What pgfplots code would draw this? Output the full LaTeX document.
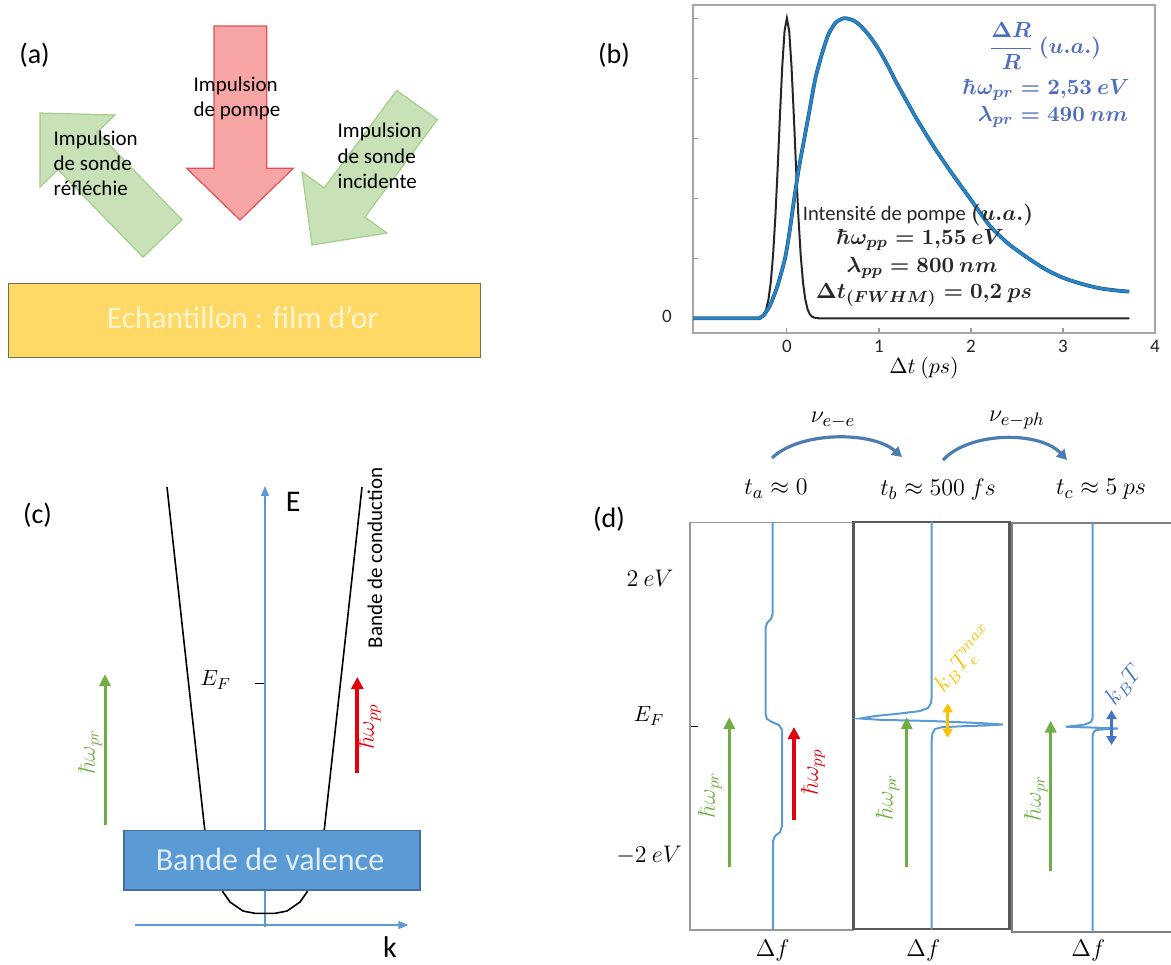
\documentclass[border=0pt]{standalone}
\usepackage[no-math]{fontspec}
\setmainfont{Carlito}
\usepackage{pgfplots}
\pgfplotsset{compat=1.18}
\usetikzlibrary{arrows.meta}
\definecolor{cblue}{RGB}{91,155,213}
\definecolor{cgreen}{RGB}{112,173,71}
\definecolor{cred}{RGB}{228,0,10}
\definecolor{cyellow}{RGB}{255,192,0}
\definecolor{cdblue}{RGB}{68,114,196}
\definecolor{ctxtblue}{RGB}{80,110,190}
\definecolor{ccurve}{RGB}{40,132,196}
\definecolor{carc}{RGB}{74,126,177}
\definecolor{pinkfill}{RGB}{248,165,165}
\definecolor{pinkdraw}{RGB}{225,80,90}
\definecolor{gfill}{RGB}{200,225,183}
\definecolor{gdraw}{RGB}{165,205,140}
\definecolor{gold}{RGB}{255,217,102}
\definecolor{golddraw}{RGB}{110,110,80}
\definecolor{goldtxt}{RGB}{255,244,210}
\definecolor{vbox}{RGB}{91,155,213}
\definecolor{vboxd}{RGB}{65,113,156}
\definecolor{vtxt}{RGB}{225,238,250}
\newcommand{\fs}[1]{\fontsize{#1}{#1}\selectfont}
\begin{document}
\begin{tikzpicture}
\path[use as bounding box] (0,0) rectangle (585.5pt,-482pt);
% ---------------- panel (b) ----------------
\begin{axis}[at={(346.5pt,-166.5pt)}, anchor=south west, scale only axis,
  width=231pt, height=164pt, xmin=-1.02, xmax=4, ymin=-0.049, ymax=1.044,
  axis line style={draw=black!35, line width=0.8pt},
  xtick={0,1,2,3,4}, ytick={0,0.2,0.4,0.6,0.8,1}, yticklabels={},
  xtick pos=left, ytick pos=left, tick align=inside, major tick length=2.5pt,
  tick style={black!40, line width=0.6pt},
  xticklabel style={font=\fs{9.5}, text=black!85},
  /pgf/number format/assume math mode=true, clip=false]
\addplot[black!85, line width=1pt] coordinates {
(-1.02,0) (-0.35,0) (-0.30,0.002) (-0.275,0.005) (-0.25,0.013) (-0.225,0.030)
(-0.20,0.063) (-0.175,0.120) (-0.15,0.211) (-0.125,0.339) (-0.10,0.500)
(-0.075,0.678) (-0.05,0.841) (-0.025,0.958) (0,1) (0.025,0.958) (0.05,0.841)
(0.075,0.678) (0.10,0.500) (0.125,0.339) (0.15,0.211) (0.175,0.120)
(0.20,0.063) (0.225,0.030) (0.25,0.013) (0.275,0.005) (0.30,0.002) (0.35,0) (3.72,0)};
\addplot[ccurve!70!black, line width=1.9pt, smooth, tension=0.4] coordinates {
(-1.02,0) (-0.35,0) (-0.29,0.003) (-0.25,0.011) (-0.18,0.045) (-0.10,0.11)
(-0.02,0.20) (0.03,0.29) (0.08,0.40) (0.13,0.50) (0.19,0.60) (0.25,0.70)
(0.31,0.80) (0.38,0.88) (0.45,0.945) (0.53,0.985) (0.62,1.0) (0.72,0.993)
(0.80,0.975) (0.90,0.94) (1.00,0.895) (1.10,0.84) (1.20,0.78) (1.40,0.67)
(1.60,0.57) (1.80,0.48) (2.00,0.395) (2.20,0.31) (2.40,0.25) (2.60,0.205)
(2.80,0.165) (3.00,0.135) (3.20,0.115) (3.40,0.10) (3.60,0.092) (3.72,0.089)};
\addplot[ccurve, line width=1.3pt, smooth, tension=0.4] coordinates {
(-1.02,0) (-0.35,0) (-0.29,0.003) (-0.25,0.011) (-0.18,0.045) (-0.10,0.11)
(-0.02,0.20) (0.03,0.29) (0.08,0.40) (0.13,0.50) (0.19,0.60) (0.25,0.70)
(0.31,0.80) (0.38,0.88) (0.45,0.945) (0.53,0.985) (0.62,1.0) (0.72,0.993)
(0.80,0.975) (0.90,0.94) (1.00,0.895) (1.10,0.84) (1.20,0.78) (1.40,0.67)
(1.60,0.57) (1.80,0.48) (2.00,0.395) (2.20,0.31) (2.40,0.25) (2.60,0.205)
(2.80,0.165) (3.00,0.135) (3.20,0.115) (3.40,0.10) (3.60,0.092) (3.72,0.089)};
\end{axis}
% ---------------- global pixel frame ----------------
\begin{axis}[at={(0pt,0pt)}, anchor=north west, scale only axis,
  width=585.5pt, height=482pt, xmin=0, xmax=1171, ymin=0, ymax=964,
  y dir=reverse, hide axis, clip=false]
% ===== (a) =====
\node[font=\fs{14}] at (34.5,55) {(a)};
\draw[fill=pinkfill, draw=pinkdraw, line width=0.6pt]
  (214,26) -- (266.7,26) -- (266.7,168.3) -- (293.3,168.3) -- (240,220)
  -- (186.7,168.3) -- (214,168.3) -- cycle;
\draw[fill=gfill, draw=gdraw, line width=0.6pt]
  (40,113) -- (115,115) -- (97,132.3) -- (182,219.8) -- (143,257.2)
  -- (58,169.7) -- (40,187) -- cycle;
\draw[fill=gfill, draw=gdraw, line width=0.6pt]
  (312,245) -- (302,172) -- (324.2,187.9) -- (396.7,90.4) -- (437.3,119.6)
  -- (364.8,217.1) -- (387,233) -- cycle;
\begin{scope}[every node/.style={anchor=base west, inner sep=0pt, font=\fs{10.5}}]
\node at (193.3,91.7) {Impulsion};
\node at (193.3,116.7) {de pompe};
\node at (53.3,145.7) {Impulsion};
\node at (53.3,170.7) {de sonde};
\node at (53.3,195.3) {réfléchie};
\node at (337.3,137.3) {Impulsion};
\node at (337.3,163.3) {de sonde};
\node at (337.3,188.3) {incidente};
\end{scope}
\draw[fill=gold, draw=golddraw, line width=0.5pt] (8,283) rectangle (480,357);
\node[anchor=base, inner sep=0pt, font=\fs{15.7}, text=goldtxt] at (242.7,328.3) {Echantillon : film d’or};
% ===== (b) texts =====
\node[font=\fs{14}] at (614,55) {(b)};
\node[font=\fs{9.5}, text=black!85] at (667,316) {0};
\node[font=\fs{10.5}] at (924,368) {$\Delta t\ (ps)$};
\begin{scope}[every node/.style={text=ctxtblue, font=\fs{11}\boldmath}]
\node at (1045,46) {$\displaystyle\frac{\Delta R}{R}\ (u.a.)$};
\node at (1046,90) {$\hbar\omega_{pr}=2{,}53\ eV$};
\node at (1053,117) {$\lambda_{pr}=490\ nm$};
\end{scope}
\begin{scope}[every node/.style={text=black!85, font=\fs{11}\boldmath}]
\node at (918,215) {{\fs{10.3}\unboldmath Intensité de pompe} $(u.a.)$};
\node at (920,240) {$\hbar\omega_{pp}=1{,}55\ eV$};
\node at (922,268) {$\lambda_{pp}=800\ nm$};
\node at (924,295) {$\Delta t_{(FWHM)}=0{,}2\ ps$};
\end{scope}
% ===== (c) =====
\node[font=\fs{14}] at (37.5,515) {(c)};
\draw[cblue, line width=0.7pt, -{Triangle[length=5pt,width=4pt]}] (265,927) -- (265,486);
\draw[cblue, line width=0.7pt, -{Triangle[length=5pt,width=4pt]}] (135,925) -- (408.3,925);
\node[font=\fs{15}] at (293.3,501.7) {E};
\node[font=\fs{15}] at (390,947) {k};
\addplot[black, line width=0.8pt] coordinates {
(167,487) (186,660) (205,832) (210,858) (216,876) (223,892) (230,902) (243,911)
(255,913.3) (265,913.3) (275,913.3) (287,911) (300,902) (307,892) (314,876)
(320,858) (324,832) (343,660) (362,487)};
\draw[fill=vbox, draw=vboxd, line width=0.6pt] (124,830.5) rectangle (420,890);
\node[anchor=base, inner sep=0pt, font=\fs{16}, text=vtxt] at (270,870) {Bande de valence};
\draw[black, line width=0.8pt] (255,683.3) -- (263.5,683.3);
\node[font=\fs{11}] at (215.8,680) {$E_F$};
\draw[cgreen, line width=1.5pt, -{Triangle[length=6pt,width=5.5pt]}] (105,825) -- (105,674);
\node[rotate=90, text=cgreen, font=\fs{12}] at (90,751.7) {$\hbar\omega_{pr}$};
\draw[cred, line width=2pt, -{Triangle[length=6pt,width=6pt]}] (357.3,773.3) -- (357.3,677);
\node[rotate=90, text=cred, font=\fs{12}] at (369,726.7) {$\hbar\omega_{pp}$};
\node[rotate=90, font=\fs{10.5}] at (375,558) {Bande de conduction};
% ===== (d) =====
\node[font=\fs{14}] at (609,519) {(d)};
\draw[black!40, line width=0.7pt] (690,522.7) rectangle (853.3,930);
\draw[black!65, line width=1.2pt] (853.3,521.7) rectangle (1009.5,929);
\draw[black!50, line width=0.8pt] (1171,523) -- (1012,523) -- (1012,932) -- (1171,932);
\draw[black, line width=0.7pt] (691,726.7) -- (698,726.7);
\node[font=\fs{11}] at (649,716) {$E_F$};
\node[font=\fs{11.5}] at (650,578) {$2\ eV$};
\node[font=\fs{11.5}] at (649,855) {$-2\ eV$};
\addplot[cblue, line width=1pt] coordinates {
(772.7,522.7) (772.7,614) (771,619) (767,623) (765.5,628) (765.5,714) (767,719)
(772,722) (779,725) (782,730) (782,826) (780,832) (775,836) (773,841) (773,930)};
\addplot[cblue, line width=1pt] coordinates {
(931.7,521.7) (931.7,696) (931,703) (928,708) (920,711) (900,713.5) (875,716)
(860,718.5) (880,719.8) (910,720.5) (931.7,721) (960,722.2) (985,723.3)
(1003,724.5) (985,725.5) (960,726.3) (942,727.2) (935,729) (932.5,733)
(931.7,740) (931.7,929)};
\addplot[cblue, line width=1pt] coordinates {
(1092.6,523) (1092.6,718) (1091,722) (1085,724.5) (1075,725.8) (1066,726.7)
(1080,727.2) (1092.6,727.5) (1105,728) (1118,728.5) (1105,729.2) (1096,730)
(1093.5,732) (1092.6,736) (1092.6,932)};
% green arrows
\draw[cgreen, line width=1.5pt, -{Triangle[length=6pt,width=5.5pt]}] (729.3,866.7) -- (729.3,717);
\draw[cgreen, line width=1.5pt, -{Triangle[length=6pt,width=5.5pt]}] (906.7,866.7) -- (906.7,717);
\draw[cgreen, line width=1.5pt, -{Triangle[length=6pt,width=5.5pt]}] (1050.7,871) -- (1050.7,720.5);
\node[rotate=90, text=cgreen, font=\fs{12}] at (710,795) {$\hbar\omega_{pr}$};
\node[rotate=90, text=cgreen, font=\fs{12}] at (887.7,797) {$\hbar\omega_{pr}$};
\node[rotate=90, text=cgreen, font=\fs{12}] at (1036,798) {$\hbar\omega_{pr}$};
\draw[cred, line width=2pt, -{Triangle[length=6pt,width=6pt]}] (794,820) -- (794,727);
\node[rotate=90, text=cred, font=\fs{12}] at (813,772) {$\hbar\omega_{pp}$};
\draw[cyellow, line width=1.5pt, {Triangle[length=4.5pt,width=5pt]}-{Triangle[length=4.5pt,width=5pt]}] (947.7,703.3) -- (947.7,737.7);
\node[rotate=50, text=cyellow, font=\fs{12}] at (965,660) {$k_BT_e^{max}$};
\draw[cdblue, line width=1.5pt, {Triangle[length=4.5pt,width=5pt]}-{Triangle[length=4.5pt,width=5pt]}] (1111.5,710) -- (1111.5,745);
\node[rotate=50, text=cdblue, font=\fs{12}] at (1124,685) {$k_BT$};
\node[font=\fs{12}] at (772.7,950) {$\Delta f$};
\node[font=\fs{12}] at (923.3,950) {$\Delta f$};
\node[font=\fs{12}] at (1088.3,950) {$\Delta f$};
% top labels
\node[font=\fs{12.5}] at (776,489) {$t_a\approx 0$};
\node[font=\fs{12.5}] at (938,489) {$t_b\approx 500\ fs$};
\node[font=\fs{12.5}] at (1101,489) {$t_c\approx 5\ ps$};
\node[font=\fs{12.5}] at (833,420) {$\nu_{e-e}$};
\node[font=\fs{12.5}] at (1017,420) {$\nu_{e-ph}$};
\draw[carc, line width=1.6pt, -{Triangle[length=5pt,width=5.5pt]}] (772,458) .. controls (800,431) and (872,431) .. (902,457);
\draw[carc, line width=1.6pt, -{Triangle[length=5pt,width=5.5pt]}] (943,460) .. controls (970,431) and (1040,431) .. (1067,460);
\end{axis}
\end{tikzpicture}
\end{document}
